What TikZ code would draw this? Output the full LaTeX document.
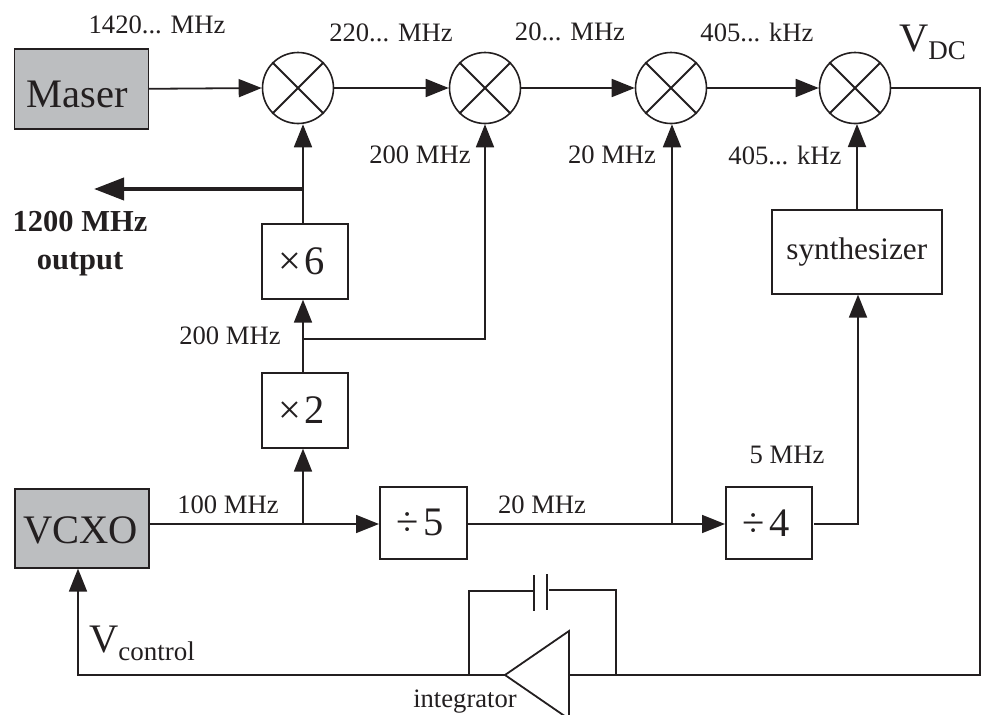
\documentclass[tikz,border=0pt]{standalone}
\usepackage{fontspec}
\setmainfont{Liberation Serif}
\usetikzlibrary{arrows.meta}
\definecolor{ink}{HTML}{231F20}
\definecolor{fillgray}{HTML}{BCBEC0}
\tikzset{
  x=1pt,y=-1pt,
  wire/.style={draw=ink,line width=1.8pt},
  flow/.style={wire,-{Triangle[length=23pt,width=18pt]}},
  boldflow/.style={draw=ink,line width=4pt,-{Triangle[length=30pt,width=22pt]}},
  blockbox/.style={draw=ink,line width=1.6pt,inner sep=0pt,anchor=north west},
  graybox/.style={blockbox,fill=fillgray},
  mixer/.style={circle,draw=ink,line width=1.6pt,minimum size=71pt,inner sep=0pt},
  lab/.style={text=ink,font=\fontsize{26.6}{30}\selectfont,inner sep=0pt},
  biglab/.style={text=ink,font=\fontsize{40.5}{46}\selectfont,inner sep=0pt},
  midlab/.style={text=ink,font=\fontsize{31.3}{34}\selectfont,inner sep=0pt},
  boldlab/.style={lab,font=\fontsize{30.5}{38}\selectfont\bfseries,align=center}
}
\newcommand{\mixcross}[1]{\draw[wire] (#1.45)--(#1.225) (#1.135)--(#1.315);}
\begin{document}
\begin{tikzpicture}
\useasboundingbox (0,0) rectangle (986,715);
\clip (0,0) rectangle (986,715);
% blocks
\node[graybox,minimum width=134pt,minimum height=80pt,label={[biglab,xshift=-4pt,yshift=-6pt]center:Maser}] (maser) at (13.5,48) {};
\node[graybox,minimum width=134pt,minimum height=79pt,label={[biglab,xshift=-1pt,yshift=-2pt]center:VCXO}] (vcxo) at (14,488) {};
\node[blockbox,minimum width=86pt,minimum height=75pt,biglab] (x6) at (261,223) {×\kern3pt 6\kern6pt};
\node[blockbox,minimum width=86pt,minimum height=75pt,biglab] (x2) at (261,372) {×\kern3pt 2\kern6pt};
\node[blockbox,minimum width=87pt,minimum height=72pt,biglab] (d5) at (379,486) {÷\kern5pt 5\kern6pt};
\node[blockbox,minimum width=86pt,minimum height=72pt,biglab] (d4) at (725,486) {÷\kern5pt 4\kern6pt};
\node[blockbox,minimum width=170pt,minimum height=84pt,midlab] (syn) at (771,209) {synthesizer};
\node[mixer] (m1) at (298,88) {};
\node[mixer] (m2) at (485,88) {};
\node[mixer] (m3) at (671,88) {};
\node[mixer] (m4) at (855,88) {};
\mixcross{m1}\mixcross{m2}\mixcross{m3}\mixcross{m4}
% junctions
\coordinate (jout) at (303,189);
\coordinate (outend) at (94,189);
\coordinate (j200) at (303,339);
\coordinate (j100) at (303,524);
\coordinate (j20) at (672,524);
\coordinate (d4out) at (814,522);
\coordinate (j5) at (858,522);
\coordinate (tr) at (980,88);
\coordinate (mid) at (980,265);
\coordinate (br) at (980,675);
\coordinate (tip) at (505,675);
\coordinate (tritop) at (569,631);
\coordinate (tribot) at (569,719);
\coordinate (triin) at (569,675);
\coordinate (fbl) at (78,675);
\coordinate (capl) at (469,591);
\coordinate (capr) at (616,590);
\coordinate (capa) at (534,591);
\coordinate (capb) at (549,590);
% connectors
\draw[flow] (maser.east)--(m1.west);
\draw[flow] (m1.east)--(m2.west);
\draw[flow] (m2.east)--(m3.west);
\draw[flow] (m3.east)--(m4.west);
\draw[flow] (x6.north -| jout)--(jout|-m1.south);
\draw[boldflow] (jout)--(outend);
\draw[wire] (x2.north -| j200)--(j200);
\draw[flow] (j200)--(j200|-x6.south);
\draw[flow] (j200)-|(m2.south);
\draw[flow] (j100)--(j100|-x2.south);
\draw[wire] (vcxo.east|-j100)--(j100);
\draw[flow] (j100)--(d5.west|-j100);
\draw[wire] (d5.east|-j20)--(j20);
\draw[flow] (j20)--(j20|-m3.south);
\draw[flow] (j20)--(d4.west|-j20);
\draw[flow] (d4out|-j20)-|(j5|-syn.south);
\draw[flow] (857,209)--(857,124);
\draw[wire] (m4.east)--(tr)--(mid);
\draw[wire] (mid)--(br)--(triin);
\draw[flow] (tip)--(fbl)--(fbl|-vcxo.south);
% integrator
\draw[wire,line join=miter] (tritop)--(tribot)--(tip)--cycle;
\draw[wire] (capl|-tip)--(capl)--(capa);
\draw[wire] (capr|-tip)--(capr)--(capb);
\draw[wire] (capa|-0,575)--(capa|-0,611);
\draw[wire] (547,574)--(547,610);
% labels
\node[lab] at (157,25) {1420... MHz};
\node[lab] at (391,33) {220... MHz};
\node[lab] at (570,32) {20... MHz};
\node[lab] at (757,32) {405... kHz};
\node[lab] at (420,155) {200 MHz};
\node[lab] at (612,155) {20 MHz};
\node[lab] at (785,155) {405... kHz};
\node[lab] at (230,336) {200 MHz};
\node[lab] at (228,505) {100 MHz};
\node[lab] at (542,505) {20 MHz};
\node[lab] at (787,455) {5 MHz};
\node[lab] at (465,702) {integrator};
\node[boldlab] at (80,244) {1200 MHz\\output};
\node[text=ink,inner sep=0pt,anchor=west] at (899,42) {\fontsize{40.5}{46}\selectfont V\raisebox{-8pt}{\fontsize{27}{30}\selectfont DC}};
\node[text=ink,inner sep=0pt,anchor=west] at (89,643) {\fontsize{40.5}{46}\selectfont V\raisebox{-8pt}{\fontsize{27}{30}\selectfont control}};
\end{tikzpicture}
\end{document}
